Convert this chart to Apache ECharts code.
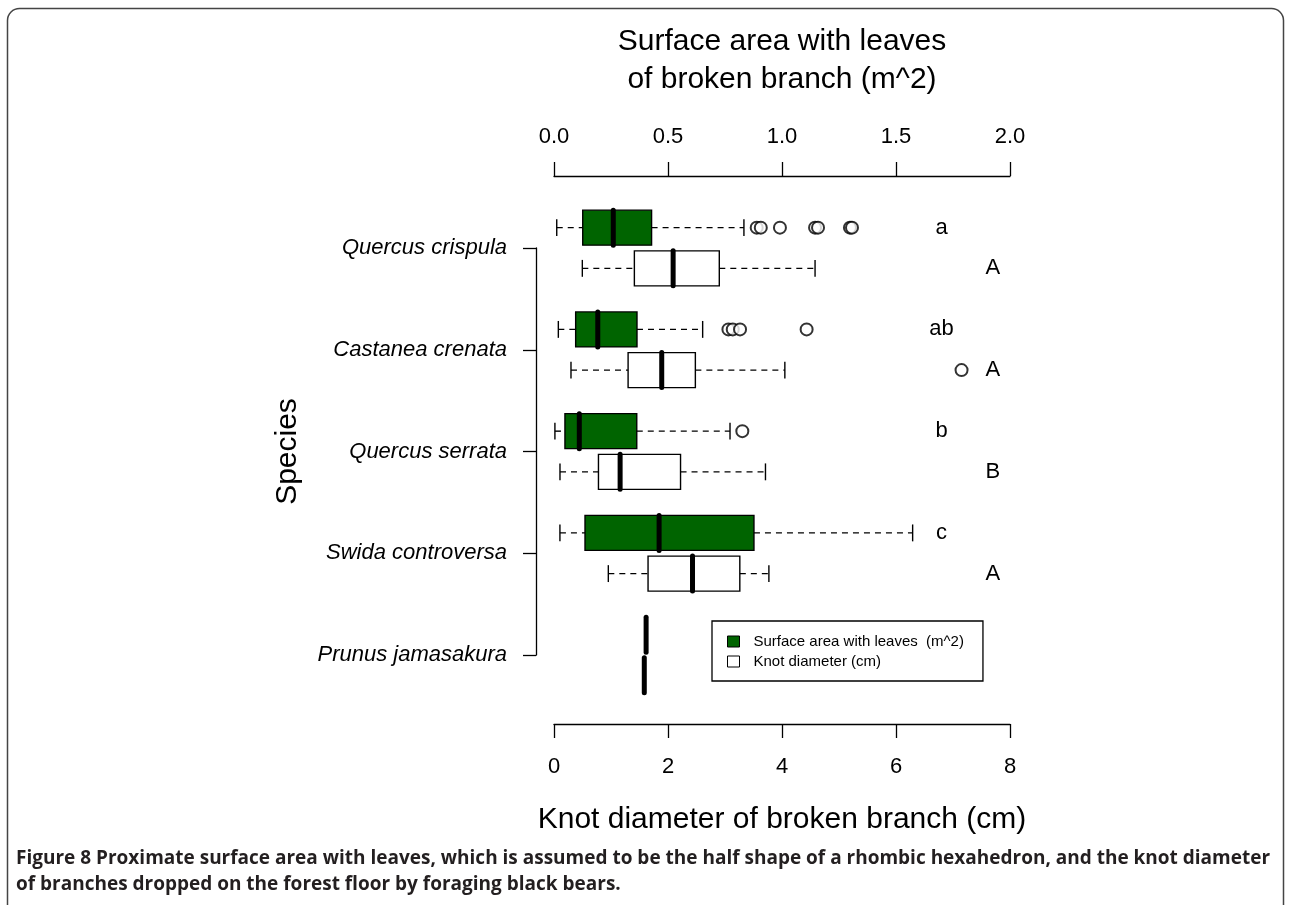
<!DOCTYPE html>
<html>
<head>
<meta charset="utf-8">
<title>Figure 8</title>
<script src="https://cdn.jsdelivr.net/npm/echarts@6/dist/echarts.min.js"></script>
<style>
  html, body { margin: 0; padding: 0; background: #fff; }
  #chart { width: 1290px; height: 905px; }
</style>
</head>
<body>
<div id="chart"></div>
<script>
// species, top to bottom
const species = ['Quercus crispula', 'Castanea crenata', 'Quercus serrata', 'Swida controversa', 'Prunus jamasakura']

// surface area with leaves (m^2): [lower whisker, Q1, median, Q3, upper whisker]
const areaBox = [
  [0.012, 0.126, 0.260, 0.428, 0.833],
  [0.019, 0.095, 0.192, 0.364, 0.652],
  [0.004, 0.048, 0.111, 0.363, 0.772],
  [0.026, 0.136, 0.461, 0.877, 1.573],
  [0.404, 0.404, 0.404, 0.404, 0.404]
]
// outliers: [species index, value]
const areaOutliers = [
  [0, 0.889], [0, 0.907], [0, 0.991], [0, 1.145], [0, 1.158], [0, 1.298], [0, 1.307],
  [1, 0.765], [1, 0.784], [1, 0.816], [1, 1.108],
  [2, 0.826]
]

// knot diameter (cm)
const knotBox = [
  [0.497, 1.41, 2.09, 2.90, 4.58],
  [0.298, 1.30, 1.89, 2.48, 4.05],
  [0.105, 0.78, 1.16, 2.22, 3.71],
  [0.953, 1.65, 2.43, 3.26, 3.77],
  [1.584, 1.584, 1.584, 1.584, 1.584]
]
const knotOutliers = [
  [1, 7.15]
]

// significance letters
const areaLetters = ['a', 'ab', 'b', 'c', '']
const knotLetters = ['A', 'A', 'B', 'A', '']

// axis ticks
const areaTicks = { min: 0, max: 2, interval: 0.5 }
const knotTicks = { min: 0, max: 8, interval: 2 }

const AREA_NAME = 'Surface area with leaves  (m^2)'
const KNOT_NAME = 'Knot diameter (cm)'
const GREEN = '#006400'
const FONT = '"Liberation Sans", Arial, sans-serif'

const chart = echarts.init(document.getElementById('chart'))

/** box + dashed whiskers, R style */
function boxRenderer(shift, fill) {
  return function(params, api) {
    const yc = api.value(0) + shift
    const lo = api.coord([api.value(1), yc])
    const q1 = api.coord([api.value(2), yc])
    const md = api.coord([api.value(3), yc])
    const q3 = api.coord([api.value(4), yc])
    const hi = api.coord([api.value(5), yc])
    const h = api.size([0, 0.172])[1]
    const cap = api.size([0, 0.083])[1]
    const y = lo[1]
    const line = { stroke: '#000', lineWidth: 1.4 }
    const dash = { stroke: '#000', lineWidth: 1.4, lineDash: [6, 5] }
    const children = []
    if (hi[0] - lo[0] > 0.5) {
      children.push(
        { type: 'line', shape: { x1: lo[0], y1: y, x2: q1[0], y2: y }, style: dash },
        { type: 'line', shape: { x1: q3[0], y1: y, x2: hi[0], y2: y }, style: dash },
        { type: 'line', shape: { x1: lo[0], y1: y - cap, x2: lo[0], y2: y + cap }, style: line },
        { type: 'line', shape: { x1: hi[0], y1: y - cap, x2: hi[0], y2: y + cap }, style: line },
        { type: 'rect', shape: { x: q1[0], y: y - h, width: q3[0] - q1[0], height: 2 * h },
          style: { fill: fill, stroke: '#000', lineWidth: 1.4 } }
      )
    }
    children.push({
      type: 'line',
      shape: { x1: md[0], y1: y - h, x2: md[0], y2: y + h },
      style: { stroke: '#000', lineWidth: 5, lineCap: 'round' }
    })
    return { type: 'group', children: children }
  }
}

function letterRenderer(letters, shift, xVal) {
  return function(params, api) {
    const i = api.value(0)
    const p = api.coord([xVal, i + shift])
    return {
      type: 'text',
      x: p[0],
      y: p[1],
      style: {
        text: letters[i],
        fontSize: 22,
        fontFamily: FONT,
        fill: '#000',
        align: 'center',
        verticalAlign: 'middle'
      }
    }
  }
}

const option = {
  backgroundColor: '#fff',
  animation: false,
  textStyle: { fontFamily: FONT, color: '#000' },
  grid: { left: 554, right: 280, top: 248, bottom: 250, outerBoundsMode: 'none' },
  legend: {
    orient: 'vertical',
    left: 712,
    top: 621,
    padding: [13, 19, 12, 15],
    itemGap: 5,
    itemWidth: 12,
    itemHeight: 11,
    icon: 'rect',
    borderColor: '#000',
    borderWidth: 1.3,
    borderRadius: 0,
    selectedMode: false,
    textStyle: { fontSize: 15, color: '#000', fontFamily: FONT, lineHeight: 14, padding: [0, 0, 0, 9] },
    data: [
      { name: AREA_NAME, itemStyle: { color: GREEN, borderColor: '#000', borderWidth: 1 } },
      { name: KNOT_NAME, itemStyle: { color: '#fff', borderColor: '#000', borderWidth: 1 } }
    ]
  },
  xAxis: [
    {
      type: 'value',
      position: 'top',
      offset: 72,
      min: areaTicks.min,
      max: areaTicks.max,
      interval: areaTicks.interval,
      name: 'Surface area with leaves\nof broken branch (m^2)',
      nameLocation: 'middle',
      nameGap: 77,
      nameTextStyle: { fontSize: 30, lineHeight: 38, color: '#000', fontFamily: FONT },
      axisLine: { show: true, onZero: false, lineStyle: { color: '#000', width: 1.3 } },
      axisTick: { show: true, length: 14, lineStyle: { color: '#000', width: 1.3 } },
      axisLabel: {
        show: true, fontSize: 22, color: '#000', margin: 28,
        showMinLabel: true, showMaxLabel: true,
        formatter: v => v.toFixed(1)
      },
      splitLine: { show: false }
    },
    {
      type: 'value',
      position: 'bottom',
      offset: 69,
      min: knotTicks.min,
      max: knotTicks.max,
      interval: knotTicks.interval,
      name: 'Knot diameter of broken branch (cm)',
      nameLocation: 'middle',
      nameGap: 81,
      nameTextStyle: { fontSize: 30, color: '#000', fontFamily: FONT },
      axisLine: { show: true, onZero: false, lineStyle: { color: '#000', width: 1.3 } },
      axisTick: { show: true, length: 14, lineStyle: { color: '#000', width: 1.3 } },
      axisLabel: {
        show: true, fontSize: 22, color: '#000', margin: 32,
        showMinLabel: true, showMaxLabel: true
      },
      splitLine: { show: false }
    }
  ],
  yAxis: {
    type: 'value',
    inverse: true,
    min: 0,
    max: species.length - 1,
    interval: 1,
    offset: 18,
    name: 'Species',
    nameLocation: 'middle',
    nameRotate: 90,
    nameGap: 233,
    nameTextStyle: { fontSize: 30, color: '#000', fontFamily: FONT },
    axisLine: { show: true, onZero: false, lineStyle: { color: '#000', width: 1.3 } },
    axisTick: { show: true, length: 13, lineStyle: { color: '#000', width: 1.3 } },
    axisLabel: {
      show: true, fontSize: 22, fontStyle: 'italic', color: '#000', margin: 29,
      showMinLabel: true, showMaxLabel: true,
      formatter: v => species[v] || ''
    },
    splitLine: { show: false }
  },
  series: [
    {
      name: AREA_NAME,
      type: 'custom',
      xAxisIndex: 0,
      clip: false,
      itemStyle: { color: GREEN },
      encode: { x: [1, 2, 3, 4, 5], y: 0 },
      renderItem: boxRenderer(-0.2, GREEN),
      data: areaBox.map((b, i) => [i].concat(b))
    },
    {
      name: KNOT_NAME,
      type: 'custom',
      xAxisIndex: 1,
      clip: false,
      itemStyle: { color: '#fff' },
      encode: { x: [1, 2, 3, 4, 5], y: 0 },
      renderItem: boxRenderer(0.2, '#fff'),
      data: knotBox.map((b, i) => [i].concat(b))
    },
    {
      type: 'scatter',
      xAxisIndex: 0,
      clip: false,
      symbol: 'emptyCircle',
      symbolSize: 12,
      itemStyle: { color: '#000', borderWidth: 1.3 },
      silent: true,
      data: areaOutliers.map(o => [o[1], o[0] - 0.2])
    },
    {
      type: 'scatter',
      xAxisIndex: 1,
      clip: false,
      symbol: 'emptyCircle',
      symbolSize: 12,
      itemStyle: { color: '#000', borderWidth: 1.3 },
      silent: true,
      data: knotOutliers.map(o => [o[1], o[0] + 0.2])
    },
    {
      type: 'custom',
      xAxisIndex: 0,
      clip: false,
      silent: true,
      renderItem: letterRenderer(areaLetters, -0.2, 1.70),
      data: areaLetters.map((l, i) => [i])
    },
    {
      type: 'custom',
      xAxisIndex: 1,
      clip: false,
      silent: true,
      renderItem: letterRenderer(knotLetters, 0.2, 7.70),
      data: knotLetters.map((l, i) => [i])
    }
  ],
  graphic: [
    {
      type: 'rect',
      silent: true,
      shape: { x: 7.5, y: 8.5, width: 1276, height: 930, r: 12 },
      style: { fill: 'none', stroke: '#444', lineWidth: 1.5 }
    },
    {
      type: 'text',
      left: 16,
      top: 846,
      silent: true,
      style: {
        text: 'Figure 8 Proximate surface area with leaves, which is assumed to be the half shape of a rhombic hexahedron, and the knot diameter\nof branches dropped on the forest floor by foraging black bears.',
        fontFamily: '"Open Sans", "Noto Sans", sans-serif',
        fontWeight: 'bold',
        fontSize: 19,
        lineHeight: 26,
        fill: '#231f20'
      }
    }
  ]
}

chart.setOption(option)
</script>
</body>
</html>
